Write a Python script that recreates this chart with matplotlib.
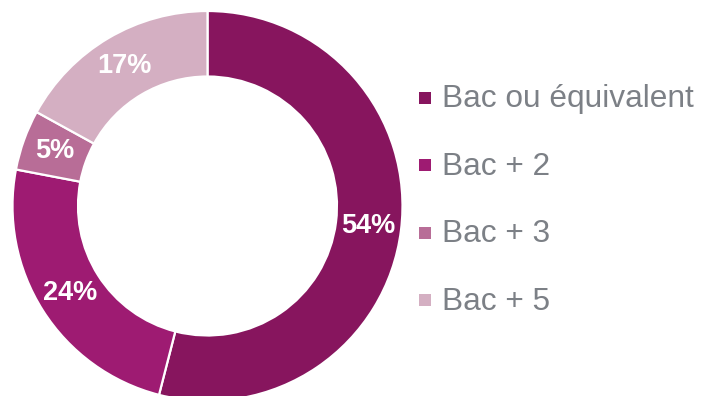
import matplotlib.pyplot as plt
from matplotlib.patches import Rectangle

# Répartition par niveau de diplôme
labels = ["Bac ou équivalent", "Bac + 2", "Bac + 3", "Bac + 5"]
values = [54, 24, 5, 17]
colors = ["#87155E", "#9E1B72", "#B86D97", "#D4AFC2"]

plt.rcParams["font.family"] = ["Liberation Sans", "DejaVu Sans"]

W, H = 701, 396
fig = plt.figure(figsize=(W / 100, H / 100), dpi=100)

# Donut: centre ~(207.5, 206) px, rayon ~195 px
cx, cy, r = 207.5, 206, 195
ax = fig.add_axes([(cx - r) / W, (H - cy - r) / H, 2 * r / W, 2 * r / H])
ring = 0.336
wedges, _, autotexts = ax.pie(
    values, colors=colors, startangle=90, counterclock=False, radius=1,
    wedgeprops=dict(width=ring, edgecolor="white", linewidth=1.6),
    autopct=lambda p: f"{p:.0f}%", pctdistance=1 - ring / 2,
    textprops=dict(color="white", fontsize=19.5, fontweight="bold"),
)
ax.set_xlim(-1, 1)
ax.set_ylim(-1, 1)
ax.set_aspect("equal")
ax.axis("off")

# Légende manuelle à droite
sq = 12
for i, (lab, col) in enumerate(zip(labels, colors)):
    yc = 97.5 + i * 67.5
    fig.patches.append(Rectangle(((419) / W, (H - yc - sq / 2) / H), sq / W, sq / H,
                                 transform=fig.transFigure, facecolor=col, edgecolor="none"))
    fig.text(442 / W, (H - (yc + 10)) / H, lab, fontsize=22.8, color="#7C8086",
             ha="left", va="baseline")

fig.savefig("out.png", dpi=100, facecolor="white")
